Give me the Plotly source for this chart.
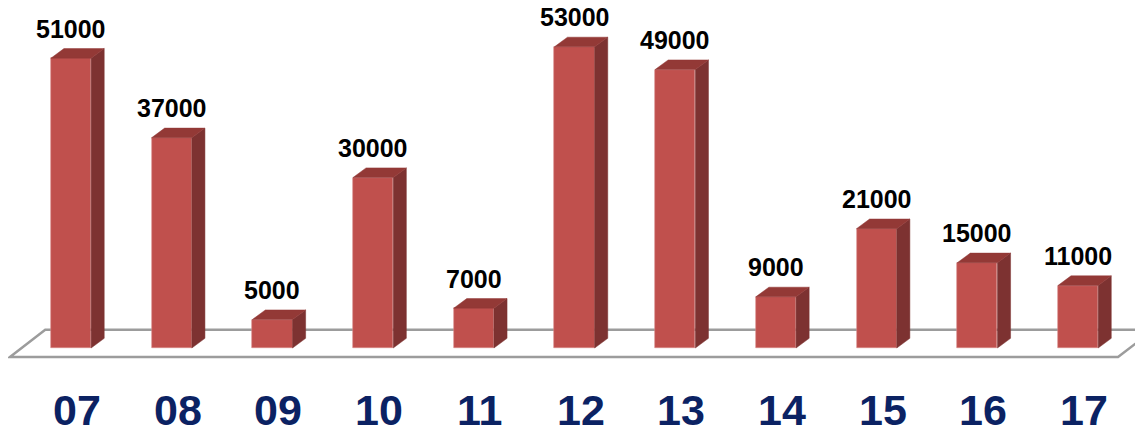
import plotly.graph_objects as go

categories = ["07", "08", "09", "10", "11", "12", "13", "14", "15", "16", "17"]
values = [51000, 37000, 5000, 30000, 7000, 53000, 49000, 9000, 21000, 15000, 11000]
value_labels = [str(v) for v in values]

FRONT = "#C0504D"
SIDE = "#7D3231"
TOP = "#933936"
FLOOR_LINE = "#9C9C9C"
NAVY = "#0B2263"

BAR_W = 0.4
DX = 0.13
DY = 1700
FLOOR_FRONT_Y = -1600
FLOOR_BACK_Y = 3200
FLOOR_DX = 0.35

xs = list(range(len(categories)))

fig = go.Figure()

# side and top faces
sx, sy = [], []
tx, ty = [], []
for x, v in zip(xs, values):
    r = x + BAR_W / 2
    l = x - BAR_W / 2
    sx += [r, r + DX, r + DX, r, r, None]
    sy += [0, DY, v + DY, v, 0, None]
    tx += [l, l + DX, r + DX, r, l, None]
    ty += [v, v + DY, v + DY, v, v, None]

# front faces
fig.add_trace(go.Bar(x=xs, y=values, width=BAR_W,
                     marker=dict(color=FRONT, line=dict(color="#D88A88", width=0.6)),
                     hoverinfo="skip", showlegend=False))
fig.add_trace(go.Scatter(x=sx, y=sy, mode="lines", fill="toself", fillcolor=SIDE,
                         line=dict(color=SIDE, width=0.5), hoverinfo="skip", showlegend=False))
fig.add_trace(go.Scatter(x=tx, y=ty, mode="lines", fill="toself", fillcolor=TOP,
                         line=dict(color=TOP, width=0.5), hoverinfo="skip", showlegend=False))

# floor (parallelogram) behind the bars
fx0 = -0.606
fx1 = 10.397
floor_path = "M {a},{b} L {c},{d} L {e},{d} L {f},{b} Z".format(
    a=fx0, b=FLOOR_FRONT_Y, c=fx0 + FLOOR_DX, d=FLOOR_BACK_Y, e=fx1 + FLOOR_DX, f=fx1)
shapes = [dict(type="path", path=floor_path, xref="x", yref="y", layer="below",
               fillcolor="white", line=dict(color=FLOOR_LINE, width=2.5))]

annotations = []
for x, v, t in zip(xs, values, value_labels):
    annotations.append(dict(x=x, y=v + DY, text="<b>" + t + "</b>", showarrow=False,
                            yanchor="bottom", xanchor="center", yshift=4,
                            font=dict(family="Liberation Sans, Arial", size=25, color="black")))
for x, c in zip(xs, categories):
    annotations.append(dict(x=x + 0.06, y=-10900, text="<b>" + c + "</b>", showarrow=False,
                            yanchor="middle", xanchor="center",
                            font=dict(family="Liberation Sans, Arial", size=43, color=NAVY)))

# page has an 8px body margin: figure spans screen pixels 8..1143 x 8..427
fig.update_layout(
    width=1135, height=419,
    margin=dict(l=0, r=0, t=0, b=0),
    paper_bgcolor="white", plot_bgcolor="white",
    xaxis=dict(range=[-0.6256, 10.645], visible=False, fixedrange=True),
    yaxis=dict(range=[-13904, 59840], visible=False, fixedrange=True),
    annotations=annotations,
    shapes=shapes,
    bargap=0,
)

fig.write_html("out.html")
